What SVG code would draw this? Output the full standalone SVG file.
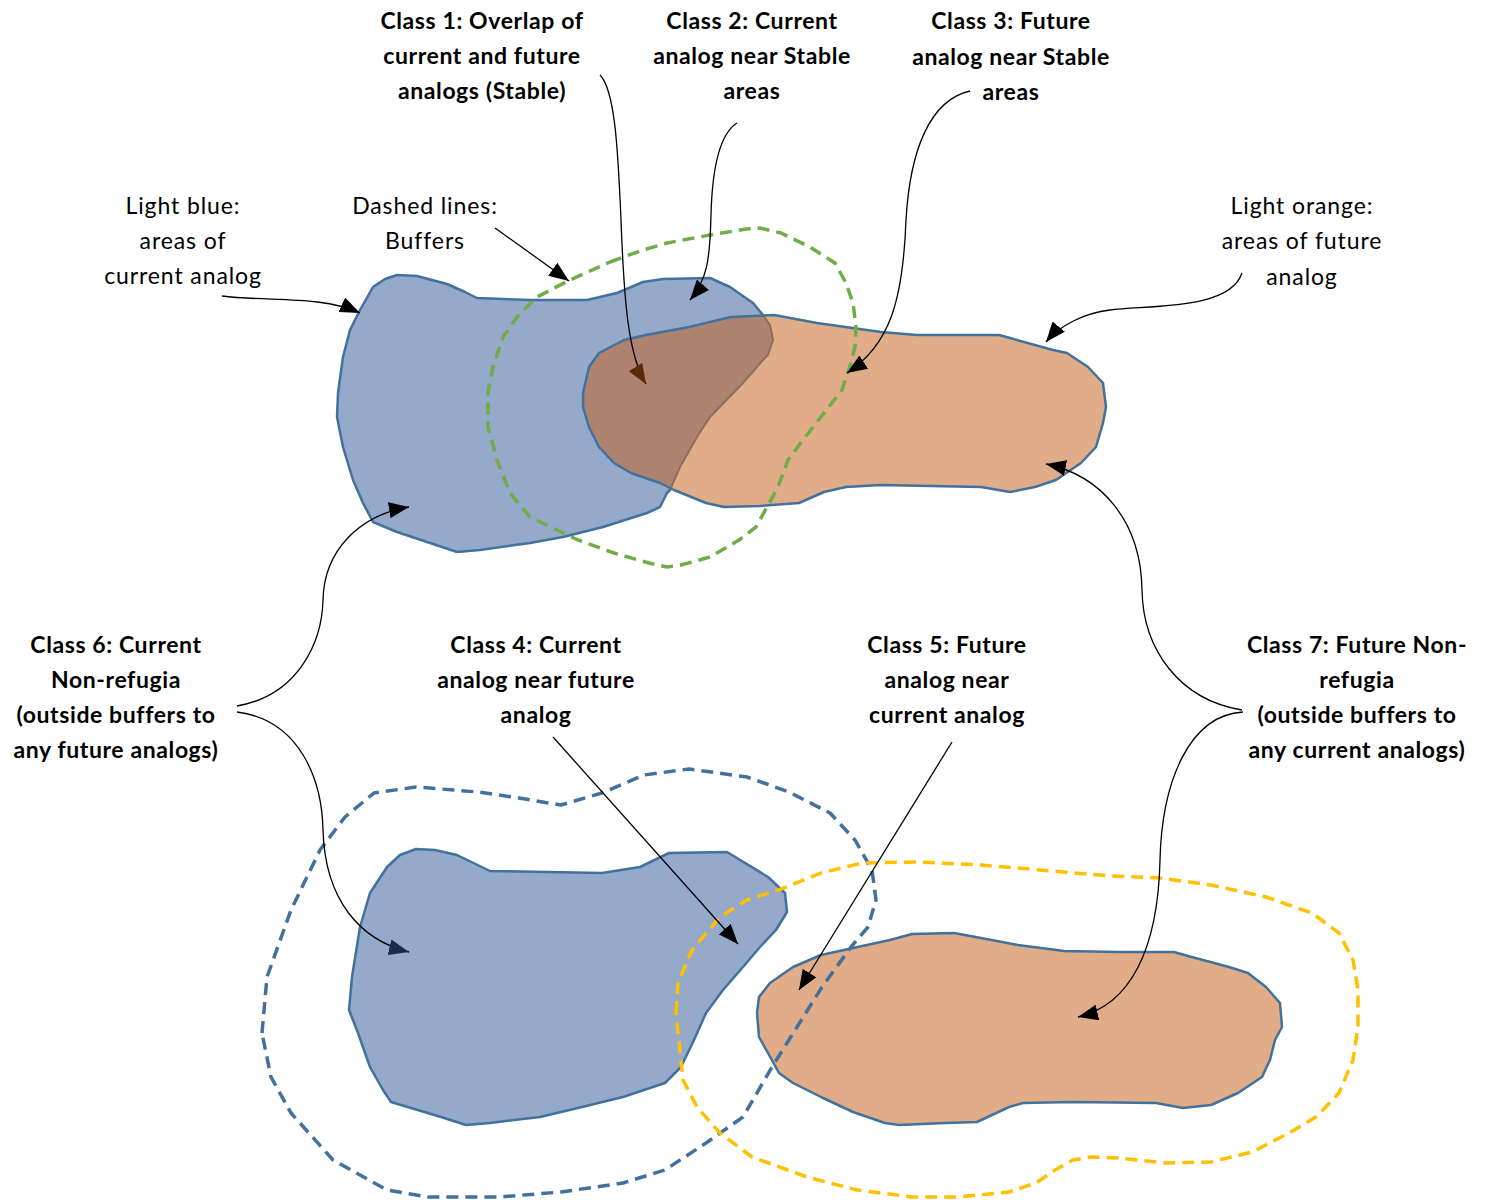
<svg xmlns="http://www.w3.org/2000/svg" xmlns:xlink="http://www.w3.org/1999/xlink" width="1488" height="1200" viewBox="0 0 1488 1200">
<style>
text{font-family:"Lato","Open Sans","Liberation Sans",sans-serif;font-size:23px;fill:#000;text-anchor:middle;letter-spacing:0.9px}
.b{font-weight:bold;letter-spacing:0.6px}
.conn{fill:none;stroke:#000;stroke-width:1.3}
.blob{stroke:#41719C;stroke-width:2.5;stroke-linejoin:round}
.buf{fill:none;stroke-width:3.5;stroke-dasharray:12 7;stroke-linejoin:round}
</style>
<defs>
<marker id="ah" viewBox="0 0 20 16" refX="20" refY="8" markerWidth="20" markerHeight="16" markerUnits="userSpaceOnUse" orient="auto"><path d="M0,0 L20,8 L0,16 z" fill="#000"/></marker>
<marker id="ahBrown" viewBox="0 0 20 16" refX="20" refY="8" markerWidth="20" markerHeight="16" markerUnits="userSpaceOnUse" orient="auto"><path d="M0,0 L20,8 L0,16 z" fill="#5E2A0B"/></marker>
<marker id="ahNavy" viewBox="0 0 20 16" refX="20" refY="8" markerWidth="20" markerHeight="16" markerUnits="userSpaceOnUse" orient="auto"><path d="M0,0 L20,8 L0,16 z" fill="#1B2A4A"/></marker>
<polygon id="topBlue" points="360,310 373,287 385,279 397,275 417,276 447,284 465,292 477,298 530,300 587,300 617,293 643,282 663,279 710,278 730,287 753,303 763,315 770,325 773,340 768,355 763,360 743,383 710,417 697,437 680,467 670,490 667,493 660,507 647,513 603,527 563,537 530,543 480,550 457,552 430,543 397,532 373,522 363,503 353,480 343,447 337,417 338,393 343,357 350,330"/>
<polygon id="topOrange" points="583,393 589,367 599,353 624,340 646,335 689,327 731,317 774,315 817,323 881,332 917,335 999,335 1010,338 1053,350 1067,353 1088,367 1103,383 1106,407 1103,423 1096,447 1081,463 1056,480 1035,487 1010,492 981,487 881,485 846,487 824,492 799,503 760,506 724,507 706,503 674,490 660,483 631,473 614,463 599,447 589,427 583,407"/>
<clipPath id="clipBlue"><use xlink:href="#topBlue"/></clipPath>
<clipPath id="clipOrange"><use xlink:href="#topOrange"/></clipPath>
</defs>
<rect width="1488" height="1200" fill="#fff"/>

<g id="current-analog-top">
<use xlink:href="#topBlue" class="blob" fill="#95A9CA"/>
</g>
<g id="future-analog-top">
<use xlink:href="#topOrange" fill="#E1AC88"/>
<use xlink:href="#topOrange" fill="#AD8370" clip-path="url(#clipBlue)"/>
<use xlink:href="#topBlue" fill="none" stroke="#8A6E60" stroke-width="2" clip-path="url(#clipOrange)"/>
<use xlink:href="#topOrange" class="blob" fill="none"/>
</g>
<g id="buffer-stable">
<polygon class="buf" stroke="#70AD47" points="610,262 640,251 667,243 710,235 746,229 760,228 781,233 810,247 835,263 846,283 853,303 856,327 855,347 851,363 842,390 824,413 803,440 788,460 778,487 767,507 756,527 739,540 710,557 681,565 667,567 649,563 614,553 578,540 563,533 530,517 510,493 497,460 488,427 488,393 493,367 503,337 517,317 537,297 570,280"/>
</g>

<g id="current-analog-bottom">
<polygon class="blob" fill="#95A9CA" points="387,867 400,855 416,849 435,850 457,855 490,871 602,873 640,867 669,853 727,852 768,877 785,893 787,912 776,930 760,947 743,967 723,990 706,1013 694,1040 681,1067 665,1083 623,1097 582,1107 540,1117 490,1123 466,1125 441,1117 391,1102 383,1090 370,1067 358,1033 349,1010 352,977 360,927 370,893"/>
</g>
<g id="future-analog-bottom">
<polygon class="blob" fill="#E1AC88" points="759,997 770,983 793,967 821,955 853,948 890,940 912,934 954,933 981,938 1018,945 1064,951 1119,952 1174,952 1188,956 1229,967 1248,973 1266,987 1280,1003 1282,1027 1275,1040 1270,1060 1262,1077 1238,1093 1211,1105 1183,1108 1156,1103 1073,1102 1023,1103 1009,1107 977,1122 945,1123 899,1125 885,1123 853,1112 821,1097 793,1083 779,1073 768,1053 759,1037 757,1013"/>
</g>
<g id="buffer-current">
<polygon class="buf" stroke="#41719C" points="262,1033 267,977 291,910 320,850 345,817 374,793 416,787 478,792 519,798 561,805 602,793 644,775 689,769 747,777 789,792 830,813 855,840 872,870 876,900 868,927 851,947 822,987 797,1027 772,1067 743,1117 706,1143 665,1170 623,1183 561,1192 499,1197 428,1197 387,1190 333,1160 291,1113 271,1077"/>
</g>
<g id="buffer-future">
<polygon class="buf" stroke="#FFC000" points="676,1013 678,983 692,950 720,917 747,900 784,888 821,873 862,863 917,862 981,865 1064,872 1110,876 1160,878 1211,885 1266,897 1312,913 1339,933 1353,960 1358,990 1358,1027 1353,1060 1339,1093 1316,1117 1289,1133 1252,1152 1211,1162 1165,1163 1119,1158 1091,1157 1073,1160 1055,1170 1036,1183 1009,1192 958,1197 912,1197 857,1190 807,1177 752,1157 720,1133 697,1107 683,1080"/>
</g>

<g id="connectors">
<path class="conn" marker-end="url(#ah)" d="M222,296 C270,302 320,295 360,313"/>
<path class="conn" marker-end="url(#ah)" d="M495,228 L569,281"/>
<path class="conn" marker-end="url(#ahBrown)" d="M600,75 C615,90 618,150 621,220 C624,300 628,355 646,384"/>
<path class="conn" marker-end="url(#ah)" d="M737,123 C718,135 712,175 711,215 C710,260 707,280 690,300"/>
<path class="conn" marker-end="url(#ah)" d="M970,91 C930,100 910,150 906,220 C903,300 890,345 847,373"/>
<path class="conn" marker-end="url(#ah)" d="M1242,273 C1230,310 1150,305 1110,310 C1085,313 1060,325 1046,342"/>
<path class="conn" marker-end="url(#ah)" d="M237,706 C300,695 322,640 323,600 C324,550 360,515 409,507"/>
<path class="conn" marker-end="url(#ahNavy)" d="M237,712 C300,720 322,780 323,830 C325,900 360,940 409,952"/>
<path class="conn" marker-end="url(#ah)" d="M553,737 L738,944"/>
<path class="conn" marker-end="url(#ah)" d="M952,742 L799,990"/>
<path class="conn" marker-end="url(#ah)" d="M1242,710 C1180,700 1143,650 1142,590 C1141,520 1100,475 1046,464"/>
<path class="conn" marker-end="url(#ah)" d="M1243,712 C1190,715 1162,780 1160,860 C1158,950 1130,1005 1078,1017"/>
</g>

<g id="label-class1"><text class="b" x="482" y="29">Class 1: Overlap of</text><text class="b" x="482" y="64">current and future</text><text class="b" x="482" y="99">analogs (Stable)</text></g>
<g id="label-class2"><text class="b" x="752" y="29">Class 2: Current</text><text class="b" x="752" y="64">analog near Stable</text><text class="b" x="752" y="99">areas</text></g>
<g id="label-class3"><text class="b" x="1011" y="29">Class 3: Future</text><text class="b" x="1011" y="65">analog near Stable</text><text class="b" x="1011" y="100">areas</text></g>
<g id="label-lightblue"><text x="183" y="214">Light blue:</text><text x="183" y="249">areas of</text><text x="183" y="284">current analog</text></g>
<g id="label-dashed"><text x="425" y="214">Dashed lines:</text><text x="425" y="249">Buffers</text></g>
<g id="label-lightorange"><text x="1302" y="214">Light orange:</text><text x="1302" y="249">areas of future</text><text x="1302" y="285">analog</text></g>
<g id="label-class6"><text class="b" x="116" y="653">Class 6: Current</text><text class="b" x="116" y="688">Non-refugia</text><text class="b" x="116" y="723">(outside buffers to</text><text class="b" x="116" y="758">any future analogs)</text></g>
<g id="label-class4"><text class="b" x="536" y="653">Class 4: Current</text><text class="b" x="536" y="688">analog near future</text><text class="b" x="536" y="723">analog</text></g>
<g id="label-class5"><text class="b" x="947" y="653">Class 5: Future</text><text class="b" x="947" y="688">analog near</text><text class="b" x="947" y="723">current analog</text></g>
<g id="label-class7"><text class="b" x="1357" y="653">Class 7: Future Non-</text><text class="b" x="1357" y="688">refugia</text><text class="b" x="1357" y="723">(outside buffers to</text><text class="b" x="1357" y="758">any current analogs)</text></g>
</svg>
